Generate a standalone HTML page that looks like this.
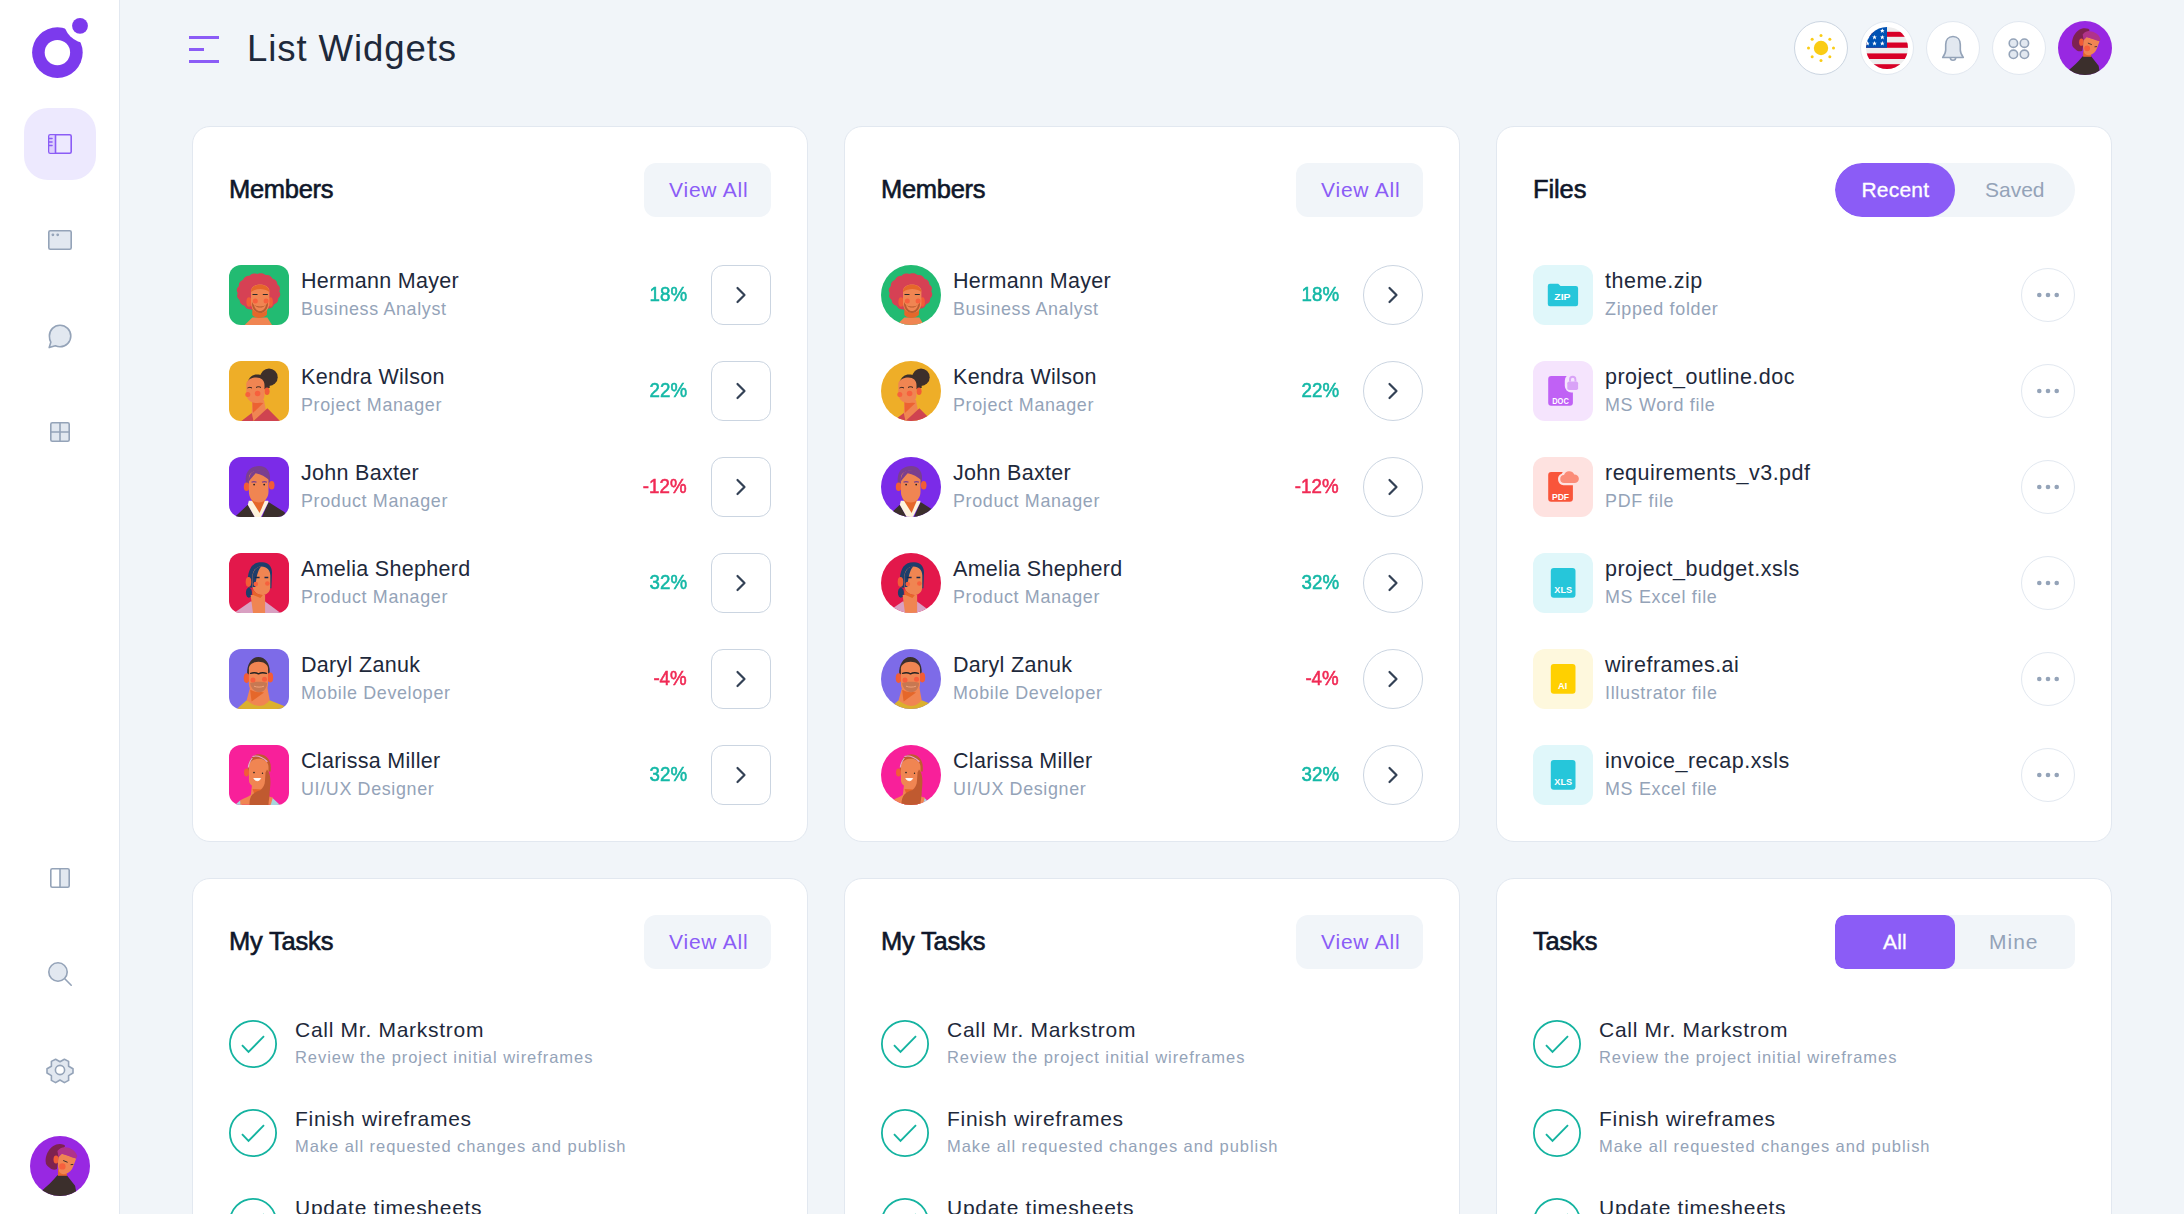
<!DOCTYPE html>
<html><head><meta charset="utf-8"><title>List Widgets</title>
<style>
html,body{margin:0;padding:0}
body{width:2184px;height:1214px;overflow:hidden;position:relative;background:#f1f5f9;font-family:"Liberation Sans",sans-serif}
.sidebar{position:absolute;left:0;top:0;width:119px;height:1214px;background:#fff;border-right:1px solid #e2e8f0}
.t{position:absolute;white-space:nowrap}
.card{position:absolute;width:614px;background:#fff;border:1px solid #e2e8f0;border-radius:18px}
.av{position:absolute;overflow:hidden}
.av svg{display:block}
.va{position:absolute;width:127px;height:54px;border-radius:12px;background:#f1f5f9}
.arr{position:absolute;width:58px;height:58px;border:1px solid #cbd5e1;background:#fff}
.arr svg{position:absolute;left:-1px;top:-1px}
.fi{position:absolute;width:60px;height:60px;border-radius:12px}
.fi svg{display:block}
.dots{position:absolute;width:52px;height:52px;border:1px solid #e2e8f0;border-radius:50%}
.dots svg{display:block}
.tabs{position:absolute;width:240px;height:54px;background:#f1f5f9;overflow:hidden}
.tab-on{position:absolute;left:0;top:0;width:120px;height:54px;background:#8b5cf6}
.chk{position:absolute;width:48px;height:48px}
.chk svg{display:block}
.hb{position:absolute;width:52px;height:52px;border:1px solid #e2e8f0;border-radius:50%;background:#fff}
.hb svg{display:block}
</style></head><body>
<svg width="0" height="0" style="position:absolute"><symbol id="a1" viewBox="0 0 60 60"><rect width="60" height="60" fill="#22bb72"/>
<path d="M50.7 27.2 L51.1 28.0 L51.2 28.9 L51.2 29.8 L51.1 30.6 L50.7 31.4 L50.2 32.2 L49.5 32.9 L49.1 33.6 L49.1 34.5 L49.0 35.4 L48.8 36.3 L48.3 37.0 L47.8 37.7 L47.0 38.3 L46.2 38.8 L45.3 39.3 L44.7 39.9 L44.3 40.8 L43.8 41.5 L43.2 42.2 L42.4 42.7 L41.5 43.1 L40.6 43.4 L39.6 43.6 L38.5 43.6 L37.8 44.2 L37.1 44.8 L36.2 45.3 L35.3 45.5 L34.4 45.5 L33.4 45.5 L32.4 45.5 L31.4 45.5 L30.4 45.4 L29.5 45.5 L28.5 45.5 L27.5 45.5 L26.6 45.5 L25.6 45.5 L24.7 45.5 L23.8 45.3 L23.0 44.7 L22.1 44.4 L21.1 44.4 L20.1 44.3 L19.1 44.1 L18.2 43.7 L17.5 43.2 L16.8 42.5 L16.2 41.8 L15.7 41.0 L15.0 40.5 L14.0 40.2 L13.1 39.7 L12.4 39.1 L11.8 38.5 L11.3 37.7 L11.0 36.9 L10.8 36.0 L10.7 35.1 L10.1 34.5 L9.4 33.8 L8.8 33.1 L8.4 32.3 L8.1 31.5 L8.1 30.6 L8.2 29.7 L8.4 28.9 L8.7 28.0 L8.3 27.2 L7.9 26.4 L7.8 25.5 L7.8 24.6 L7.9 23.8 L8.3 23.0 L8.8 22.2 L9.5 21.5 L9.9 20.8 L9.9 19.9 L10.0 19.0 L10.2 18.1 L10.7 17.4 L11.2 16.7 L12.0 16.1 L12.8 15.6 L13.7 15.1 L14.3 14.5 L14.7 13.6 L15.2 12.9 L15.8 12.2 L16.6 11.7 L17.5 11.3 L18.4 11.0 L19.4 10.8 L20.5 10.8 L21.2 10.2 L21.9 9.6 L22.8 9.1 L23.7 8.7 L24.6 8.5 L25.6 8.4 L26.6 8.5 L27.6 8.8 L28.6 9.0 L29.5 8.6 L30.5 8.3 L31.5 8.2 L32.4 8.2 L33.4 8.3 L34.3 8.7 L35.2 9.1 L36.0 9.7 L36.9 10.0 L37.9 10.0 L38.9 10.1 L39.9 10.3 L40.8 10.7 L41.5 11.2 L42.2 11.9 L42.8 12.6 L43.3 13.4 L44.0 13.9 L45.0 14.2 L45.9 14.7 L46.6 15.3 L47.2 15.9 L47.7 16.7 L48.0 17.5 L48.2 18.4 L48.3 19.3 L48.9 19.9 L49.6 20.6 L50.2 21.3 L50.6 22.1 L50.9 22.9 L50.9 23.8 L50.8 24.7 L50.6 25.5 L50.3 26.4z" fill="#d64154"/>
<ellipse cx="20" cy="37" rx="2.6" ry="4.8" fill="#f25c36"/><ellipse cx="41.5" cy="37" rx="2.4" ry="4.8" fill="#f25c36"/>
<path d="M15.7 60L23.3 52.5h15L43 60z" fill="#f08552"/>
<path d="M23.3 42h15l-.5 8c-2 2-5 3-7.5 3s-5.5-1-7-3z" fill="#e5672a"/>
<path d="M22 26c0-4 4-6.5 9-6.5s9.4 2.5 9.4 6.5v12c0 6-4 10-9.2 10S22 44 22 38z" fill="#f08552"/>
<path d="M22 26.9c0-4.5 4-7.2 9-7.2s9.4 2.7 9.4 7.2c-3-2.2-6-3-9.2-3S25 24.7 22 26.9z" fill="#e5672a"/>
<path d="M23 37c1 3 4 4.5 8 4.5s7-1.5 8-4.5c.5 6-3 11-8 11s-8.5-5-8-11z" fill="#b85c30"/>
<path d="M25 39.5c2 2.5 4 3 6 3s4-.5 6-3c-.5 4-3 6.5-6 6.5s-5.5-2.5-6-6.5z" fill="#f08552"/>
<circle cx="26.3" cy="36.1" r="2.5" fill="#f7603d"/><circle cx="37.1" cy="36.1" r="2.5" fill="#f7603d"/>
<path d="M23.5 29.5h5M33.8 29.5h5" stroke="#2a2a2a" stroke-width="1.1"/></symbol><symbol id="a2" viewBox="0 0 60 60"><rect width="60" height="60" fill="#eeae28"/>
<circle cx="40" cy="16.2" r="8.7" fill="#3d2f2b"/>
<path d="M18.5 21.5C20 16 24 13.5 28 13.5c4 0 8 1 10 4.5l3 8.5-4 2-18-4z" fill="#3d2f2b"/>
<path d="M23.4 39h11.5l2 10L24.5 60 22.8 52z" fill="#f08552"/>
<path d="M23.4 41l11 1-10.5 10z" fill="#ec6232"/>
<ellipse cx="38" cy="30.2" rx="2.6" ry="3.8" fill="#f25c36"/>
<path d="M17.3 22c2-4 6-5.5 10-5.5 5 0 8.2 3 8.2 7.5v10c0 5-3.5 8.1-8.5 8.1-5.5 0-9.7-4-9.7-9.5z" fill="#f08552"/>
<circle cx="18.8" cy="33.4" r="2.5" fill="#f7603d"/><circle cx="28.6" cy="32.5" r="2.8" fill="#f7603d"/>
<path d="M18.5 27c1.5-.8 3-.8 4.5 0M27 26.5c1.5-1 3.5-1 5 0" stroke="#2d2220" stroke-width="1" fill="none"/>
<path d="M12.4 60L22.8 51.9 24.5 60zM24.5 60L38.4 47.3 51 60z" fill="#cf4350"/></symbol><symbol id="a3" viewBox="0 0 60 60"><rect width="60" height="60" fill="#7b2be8"/>
<path d="M17 27c-1-6 0-12 4-15 4-3 10-4 14-2 4 2 6 6 6 11l-.5 5z" fill="#7a3f8e"/>
<ellipse cx="17.6" cy="29.7" rx="2.8" ry="4.3" fill="#f25c36"/><ellipse cx="42.7" cy="28.2" rx="2.8" ry="4.3" fill="#f25c36"/>
<path d="M5.8 60L18.8 47.8 25.7 60zM39.5 45l16.2 10.3 .5 4.7H33z" fill="#3b2f2c"/>
<path d="M18.8 47.8l1-4h19.4l.3 1.2L32 60h-6.3z" fill="#fdf3dc"/>
<path d="M21 40.5h16.2l-6.6 15.5z" fill="#e5672a"/>
<path d="M19.9 21c0-5 4.5-7.2 9.8-7.2 5.8 0 9.8 3 9.8 7.5v13.5c0 6.2-4 10.7-9.8 10.7-5.9 0-9.8-4.5-9.8-10.7z" fill="#f08552"/>
<path d="M19.9 24.5c-.2-5 1.5-9 5.5-10.5 5-1.8 10.5-.5 13.5 2.5 1.5 1.5 2 4 1.8 7-4-3.5-9-6.5-14-7.2-2 2-4.5 5-6.8 8.2z" fill="#7a3f8e"/>
<path d="M22.5 25.3c1.5-.8 3.5-.8 5 0M33 25.3c1.5-.8 3.5-.8 5 0" stroke="#7a3f8e" stroke-width="1.2" fill="none"/>
<circle cx="25.1" cy="27.6" r=".9" fill="#222"/><circle cx="35.2" cy="27.6" r=".9" fill="#222"/></symbol><symbol id="a4" viewBox="0 0 60 60"><rect width="60" height="60" fill="#e3184b"/>
<path d="M19 34.6c-1-8 0-16 3.5-21 3-4 8-5 13-4 5 1 7.5 5 7.5 10l-.6 15.6H39l-.5-14-14 0-.8 13.5z" fill="#1d3e6b"/>
<ellipse cx="19.9" cy="39.8" rx="3" ry="5" fill="#1d3e6b"/>
<ellipse cx="19.5" cy="29" rx="2.8" ry="4.9" fill="#f25c36"/>
<path d="M4.9 60l16.7-11.6h14.5L51.6 60z" fill="#d9a0c2"/>
<path d="M21.6 42h14.5v18H24z" fill="#f08552"/>
<path d="M23.4 24c0-6 3.5-10.5 9-10.5 5.3 0 8.9 3.5 8.9 9v11c0 5.5-3.5 8.6-8 8.6-5 0-9.9-4-9.9-9.5z" fill="#f08552"/>
<path d="M23.4 36c2.5 3.5 6 5.8 10.5 6.1l-2.5 3-8-3.5z" fill="#e5672a"/>
<path d="M23.5 26c-.5-7 3-12.5 9-12.8-2.5 2.5-5 7-6 20.8h-2.8z" fill="#1d3e6b"/>
<circle cx="26.8" cy="31.1" r="2.3" fill="#f7603d"/><circle cx="38.4" cy="30.5" r="2.3" fill="#f7603d"/>
<path d="M25.8 24.5h4.8M35.5 24.5h3.8" stroke="#1d2a4a" stroke-width="1.3"/></symbol><symbol id="a5" viewBox="0 0 60 60"><rect width="60" height="60" fill="#7d6be8"/>
<path d="M18.2 25c-.5-9 4-17 11-17 7.5 0 12 7 11.5 16l-1.5 1-.3-6H20.5l-.5 7z" fill="#3b2f2c"/>
<ellipse cx="17.6" cy="29.1" rx="2.9" ry="4.9" fill="#f25c36"/><ellipse cx="41.3" cy="28.5" rx="2.9" ry="4.9" fill="#f25c36"/>
<path d="M7.8 60l9.8-8.7h23.1L55.1 57l.9 3z" fill="#dbb02e"/>
<path d="M21.1 38.5h17.3l2.3 12.8c-2.5 3-6 5.7-10.4 5.7-4.3 0-8.5-2.5-12.7-5.7z" fill="#f08552"/>
<path d="M21.1 41l14 2.5-12.5 9z" fill="#e5672a"/>
<path d="M19.9 19.5c0-4 4.5-6.8 9.7-6.8s9.4 2.8 9.4 6.8v16c0 5.2-4 7.7-9.2 7.7s-9.9-2.5-9.9-7.7z" fill="#f08552"/>
<path d="M21.1 34c3-1 6-1.2 8.8-1.2s5.5.2 8.3 1.2c-.6 5.5-3.5 9.2-8 9.2-4.4 0-8.5-3.7-9.1-9.2z" fill="#c77852"/>
<path d="M25 37.2c3 1.2 7 1.2 10 0" stroke="#f0a27a" stroke-width="1" fill="none"/>
<circle cx="24" cy="31.1" r="2.5" fill="#f7603d"/><circle cx="35.5" cy="30.2" r="2.5" fill="#f7603d"/>
<path d="M21 24.5c3-1 6-1 8.5.3 2.5-1.3 5.5-1.3 8.5-.3" stroke="#222" stroke-width="1.3" fill="none"/></symbol><symbol id="a6" viewBox="0 0 60 60"><rect width="60" height="60" fill="#f8209a"/>
<path d="M18.8 26.5c-.5-10 4-17.3 11.2-17.3 7 0 11.8 5.5 11.8 13v4.3z" fill="#c05a30"/>
<ellipse cx="17.5" cy="27.6" rx="2.5" ry="4" fill="#f25c36"/>
<path d="M6 60l5.3-4.7L13 60zM43 52.4l8 7.6H41z" fill="#a8d5dc"/>
<path d="M11.3 55.3c4-2 8-3.3 10.5-5.5l1.5-12h14l1.5 13c2 1 3.5 1.5 5 2l-2 7H11.3z" fill="#f08552"/>
<path d="M23.5 44l9 .5-7 5z" fill="#e5672a"/>
<path d="M19.9 22c0-5 4.3-8.2 9.8-8.2s9.8 3.2 9.8 8.2v12.8c0 5.2-4.3 7.8-9.8 7.8-5.3 0-9.8-2.6-9.8-7.8z" fill="#f08552"/>
<path d="M38 24.5c3 3 3.8 9 3.3 15.8l-.5 6c0 5-1.3 9.5-1.3 13.7H20.5c-.2-4.5.8-8 2.9-10.4 2-2.4 5.5-3.5 8.1-4.6 2.5-2 4.5-5.5 4.5-9.5l.5-8z" fill="#c05a30"/>
<path d="M23.4 11.5c5-1.5 10.5 1 15 5.2M19.3 22.5c.5-4 2-7 4-9.5" stroke="#e6a6d0" stroke-width="1.2" fill="none"/>
<path d="M24.8 33.6c2.3 2.8 5 2.8 6.8 0z" fill="#fff" stroke="#fff" stroke-width="1"/>
<circle cx="25" cy="27.6" r=".8" fill="#222"/><circle cx="33.5" cy="28.2" r=".7" fill="#222"/></symbol><symbol id="me" viewBox="0 0 60 60"><rect width="60" height="60" fill="#9828e2"/>
<path d="M29.6 8C33 8 35 9 35.1 10.2L30 16 27 33C25 34 22 34 20 32 17 30 15.5 28 15.8 26.5 15 22 17 17 18.5 14.9 21 11 25 8 29.6 8z" fill="#7d2250"/>
<path d="M12.4 54.2C17 50 22 46 27.4 39.2h9.4l8.3 10.6L47 60H10z" fill="#3b2f2c"/>
<path d="M28 33.5l8.5 2 .5 4.2h-9z" fill="#e5672a"/>
<ellipse cx="26" cy="23.5" rx="2.5" ry="4.1" fill="#f25c36"/>
<path d="M28.5 21l3.3-3.3c5.2 1.3 10.2 2.8 14.4 4.9l-2.9 7.6c-1.3 3.8-4.3 6.8-8.2 7.9-3.1.4-5.1-1.1-6-2.7-1.1-3.4-1.3-5.4-1.2-8.3z" fill="#f08552"/>
<path d="M27.4 14.9c2.6-2.9 5.6-3.9 7.7-3.6 4.9.2 9.9 2.7 12.2 8.6l-1.1 2.7c-5.2-1.6-10.2-3.6-14.4-4.9L28.5 21z" fill="#b0338a"/>
<circle cx="32.4" cy="30.4" r="3.2" fill="#f7603d"/>
<path d="M33.2 24.5l4.4 1.8M40.6 28.7l2.7-.3" stroke="#3b2f2c" stroke-width="1"/></symbol></svg>
<div class="sidebar"></div>

<svg class="logo" width="120" height="100" viewBox="0 0 120 100" style="position:absolute;left:0;top:0">
 <defs><mask id="lm"><rect width="120" height="100" fill="#fff"/><circle cx="57.4" cy="52.6" r="12.7" fill="#000"/><circle cx="87" cy="19.5" r="23.7" fill="#000"/></mask></defs>
 <circle cx="57.4" cy="52.6" r="25.3" fill="#7c3aed" mask="url(#lm)"/>
 <circle cx="80" cy="25.8" r="7.9" fill="#7c3aed"/>
</svg>
<div style="position:absolute;left:24px;top:108px;width:72px;height:72px;border-radius:24px;background:#ede9fe"></div>
<svg width="120" height="1214" style="position:absolute;left:0;top:0" fill="none" stroke-linecap="round" stroke-linejoin="round">
 <g stroke="#8b5cf6" stroke-width="1.6">
  <rect x="48.8" y="134.8" width="22.4" height="18.4" rx="1.5" fill="#ede9fe"/>
  <path d="M49.5 135.5h6v17h-6z" fill="#ddd0fd" stroke="none"/>
  <path d="M55.5 134.8v18.4"/>
  <path d="M49 138.5h3M49 142h3M49 145.5h3"/>
 </g>
 <g stroke="#94a3b8" stroke-width="1.6">
  <rect x="48.8" y="230.8" width="22.4" height="18.4" rx="1.5" fill="#e2e8f0"/>
  <circle cx="52.9" cy="234.8" r="0.6" fill="#94a3b8"/><circle cx="57.7" cy="234.8" r="0.6" fill="#94a3b8"/>
  <path d="M60 325.2c6 0 10.8 4.8 10.8 10.8S66 346.8 60 346.8c-1.6 0-3.2-.4-4.6-1l-6.2 1.8 1.6-5.4c-.8-1.5-1.4-3.3-1.4-6.2 0-6 4.6-10.8 10.6-10.8z" fill="#e2e8f0"/>
  <rect x="50.8" y="422.8" width="18.4" height="18.4" rx="1.5" fill="#e2e8f0"/>
  <path d="M60 422.8v18.4M50.8 432h18.4"/>
  <path d="M60 869.5h8.2a1 1 0 0 1 1 1v16a1 1 0 0 1-1 1H60z" fill="#e2e8f0" stroke="none"/>
  <rect x="50.8" y="868.8" width="18.4" height="18.4" rx="1.5"/>
  <path d="M60 868.8v18.4"/>
  <circle cx="58" cy="972" r="9.2" fill="#e2e8f0"/>
  <path d="M64.8 978.8l6.4 6.4"/>
  <path d="M55.6 1059.2l4.4 2.6 4.4-2.6 4.2 2.2v4.8l4.4 2.6v4.2l-4.4 2.6v4.8l-4.2 2.2-4.4-2.6-4.4 2.6-4.2-2.2v-4.8l-4.4-2.6v-4.2l4.4-2.6v-4.8z" fill="#e2e8f0"/>
  <circle cx="60" cy="1070" r="4.6" fill="#fff"/>
 </g>
</svg>
<div class="av" style="left:30px;top:1136px;width:60px;height:60px;border-radius:50%"><svg width="60" height="60" viewBox="0 0 60 60"><use href="#me"/></svg></div>
<svg width="32" height="30" style="position:absolute;left:188px;top:34px"><g fill="#8b5cf6"><rect x="1" y="2" width="30" height="3"/><rect x="1" y="14" width="15" height="3"/><rect x="1" y="26" width="30" height="3"/></g></svg><div class="t " style="left:247px;top:31.40px;font-size:36.6px;line-height:36.6px;color:#1e293b;letter-spacing:0.9px;">List Widgets</div><div class="hb" style="left:1794px;top:21px;border-color:#cbd5e1"><svg width="52" height="52" viewBox="0 0 52 52"><circle cx="26" cy="26" r="7.2" fill="#facc15"/><circle cx="38.50" cy="26.00" r="1.5" fill="#facc15"/><circle cx="34.84" cy="34.84" r="1.5" fill="#facc15"/><circle cx="26.00" cy="38.50" r="1.5" fill="#facc15"/><circle cx="17.16" cy="34.84" r="1.5" fill="#facc15"/><circle cx="13.50" cy="26.00" r="1.5" fill="#facc15"/><circle cx="17.16" cy="17.16" r="1.5" fill="#facc15"/><circle cx="26.00" cy="13.50" r="1.5" fill="#facc15"/><circle cx="34.84" cy="17.16" r="1.5" fill="#facc15"/></svg></div><div class="hb" style="left:1860px;top:21px;border-color:#e2e8f0"><svg width="52" height="52" viewBox="0 0 52 52"><defs><clipPath id="fc"><circle cx="26" cy="26" r="21"/></clipPath></defs><g clip-path="url(#fc)">
<rect x="0" y="0" width="52" height="52" fill="#eeeeee"/>
<rect x="0" y="9.8" width="52" height="5" fill="#d80027"/><rect x="0" y="20.5" width="52" height="5.3" fill="#d80027"/><rect x="0" y="31.4" width="52" height="5.6" fill="#d80027"/><rect x="0" y="42.2" width="52" height="6" fill="#d80027"/>
<rect x="0" y="0" width="26" height="25.8" fill="#0052b4"/><path transform="translate(21.3,8.8) scale(1.5)" d="M0-1.6L.47-.5H1.5L.7.2 1 1.4 0 .7-1 1.4-.7.2-1.5-.5H-.47z" fill="#fff"/><path transform="translate(13.5,15.3) scale(1.5)" d="M0-1.6L.47-.5H1.5L.7.2 1 1.4 0 .7-1 1.4-.7.2-1.5-.5H-.47z" fill="#fff"/><path transform="translate(21.3,15.3) scale(1.5)" d="M0-1.6L.47-.5H1.5L.7.2 1 1.4 0 .7-1 1.4-.7.2-1.5-.5H-.47z" fill="#fff"/><path transform="translate(6.4,21.5) scale(1.5)" d="M0-1.6L.47-.5H1.5L.7.2 1 1.4 0 .7-1 1.4-.7.2-1.5-.5H-.47z" fill="#fff"/><path transform="translate(13.5,21.5) scale(1.5)" d="M0-1.6L.47-.5H1.5L.7.2 1 1.4 0 .7-1 1.4-.7.2-1.5-.5H-.47z" fill="#fff"/><path transform="translate(21.3,21.5) scale(1.5)" d="M0-1.6L.47-.5H1.5L.7.2 1 1.4 0 .7-1 1.4-.7.2-1.5-.5H-.47z" fill="#fff"/></g></svg></div><div class="hb" style="left:1926px;top:21px;border-color:#e2e8f0"><svg width="52" height="52" viewBox="0 0 52 52"><path d="M26 14.5c-4.5 0-7.3 3.3-7.3 8v5.5c0 3-1.3 5-3 7.5h20.6c-1.7-2.5-3-4.5-3-7.5v-5.5c0-4.7-2.8-8-7.3-8z" fill="#e2e8f0" stroke="#94a3b8" stroke-width="1.6" stroke-linejoin="round"/><path d="M23.3 35.5a2.7 2.7 0 0 0 5.4 0" stroke="#94a3b8" stroke-width="1.6" fill="none"/></svg></div><div class="hb" style="left:1992px;top:21px;border-color:#e2e8f0"><svg width="52" height="52" viewBox="0 0 52 52"><g stroke="#94a3b8" stroke-width="1.6" fill="#e2e8f0"><circle cx="20.4" cy="21.2" r="4.2"/><circle cx="31.4" cy="21.2" r="4.2"/><circle cx="20.4" cy="32.3" r="4.2"/><circle cx="31.4" cy="32.3" r="4.2"/></g></svg></div><div class="av" style="left:2058px;top:21px;width:54px;height:54px;border-radius:50%"><svg width="54" height="54" viewBox="0 0 60 60"><use href="#me"/></svg></div>
<div class="card" style="left:192px;top:126px;height:714px"></div><div class="card" style="left:192px;top:878px;height:400px"></div><div class="card" style="left:844px;top:126px;height:714px"></div><div class="card" style="left:844px;top:878px;height:400px"></div><div class="card" style="left:1496px;top:126px;height:714px"></div><div class="card" style="left:1496px;top:878px;height:400px"></div><div class="t " style="left:229px;top:177.05px;font-size:25.5px;line-height:25.5px;color:#0f172a;letter-spacing:-0.3px;-webkit-text-stroke:0.6px #0f172a;">Members</div><div class="va" style="left:644px;top:163px"></div><div class="t " style="left:669px;top:178.90px;font-size:21px;line-height:21px;color:#8b5cf6;letter-spacing:0.8px;">View All</div><div class="av" style="left:229px;top:265px;width:60px;height:60px;border-radius:12px"><svg width="60" height="60" viewBox="0 0 60 60"><use href="#a1"/></svg></div><div class="t " style="left:301px;top:270.75px;font-size:21.5px;line-height:21.5px;color:#1e293b;letter-spacing:0.3px;">Hermann Mayer</div><div class="t " style="left:301px;top:300.55px;font-size:17.9px;line-height:17.9px;color:#94a3b8;letter-spacing:0.65px;">Business Analyst</div><div class="t " style="right:1497px;top:285.25px;font-size:19.5px;line-height:19.5px;color:#14b8a6;letter-spacing:0px;transform:scaleX(0.96);transform-origin:100% 50%;-webkit-text-stroke:0.55px #14b8a6;">18%</div><div class="arr" style="left:711px;top:265px;border-radius:12px"><svg width="60" height="60" viewBox="0 0 60 60"><path d="M26.5 23l7 7-7 7" stroke="#334155" stroke-width="2.2" fill="none" stroke-linecap="round" stroke-linejoin="round"/></svg></div><div class="av" style="left:229px;top:361px;width:60px;height:60px;border-radius:12px"><svg width="60" height="60" viewBox="0 0 60 60"><use href="#a2"/></svg></div><div class="t " style="left:301px;top:366.75px;font-size:21.5px;line-height:21.5px;color:#1e293b;letter-spacing:0.3px;">Kendra Wilson</div><div class="t " style="left:301px;top:396.55px;font-size:17.9px;line-height:17.9px;color:#94a3b8;letter-spacing:0.65px;">Project Manager</div><div class="t " style="right:1497px;top:381.25px;font-size:19.5px;line-height:19.5px;color:#14b8a6;letter-spacing:0px;transform:scaleX(0.96);transform-origin:100% 50%;-webkit-text-stroke:0.55px #14b8a6;">22%</div><div class="arr" style="left:711px;top:361px;border-radius:12px"><svg width="60" height="60" viewBox="0 0 60 60"><path d="M26.5 23l7 7-7 7" stroke="#334155" stroke-width="2.2" fill="none" stroke-linecap="round" stroke-linejoin="round"/></svg></div><div class="av" style="left:229px;top:457px;width:60px;height:60px;border-radius:12px"><svg width="60" height="60" viewBox="0 0 60 60"><use href="#a3"/></svg></div><div class="t " style="left:301px;top:462.75px;font-size:21.5px;line-height:21.5px;color:#1e293b;letter-spacing:0.3px;">John Baxter</div><div class="t " style="left:301px;top:492.55px;font-size:17.9px;line-height:17.9px;color:#94a3b8;letter-spacing:0.65px;">Product Manager</div><div class="t " style="right:1497px;top:477.25px;font-size:19.5px;line-height:19.5px;color:#f02a55;letter-spacing:0px;transform:scaleX(0.96);transform-origin:100% 50%;-webkit-text-stroke:0.55px #f02a55;">-12%</div><div class="arr" style="left:711px;top:457px;border-radius:12px"><svg width="60" height="60" viewBox="0 0 60 60"><path d="M26.5 23l7 7-7 7" stroke="#334155" stroke-width="2.2" fill="none" stroke-linecap="round" stroke-linejoin="round"/></svg></div><div class="av" style="left:229px;top:553px;width:60px;height:60px;border-radius:12px"><svg width="60" height="60" viewBox="0 0 60 60"><use href="#a4"/></svg></div><div class="t " style="left:301px;top:558.75px;font-size:21.5px;line-height:21.5px;color:#1e293b;letter-spacing:0.3px;">Amelia Shepherd</div><div class="t " style="left:301px;top:588.55px;font-size:17.9px;line-height:17.9px;color:#94a3b8;letter-spacing:0.65px;">Product Manager</div><div class="t " style="right:1497px;top:573.25px;font-size:19.5px;line-height:19.5px;color:#14b8a6;letter-spacing:0px;transform:scaleX(0.96);transform-origin:100% 50%;-webkit-text-stroke:0.55px #14b8a6;">32%</div><div class="arr" style="left:711px;top:553px;border-radius:12px"><svg width="60" height="60" viewBox="0 0 60 60"><path d="M26.5 23l7 7-7 7" stroke="#334155" stroke-width="2.2" fill="none" stroke-linecap="round" stroke-linejoin="round"/></svg></div><div class="av" style="left:229px;top:649px;width:60px;height:60px;border-radius:12px"><svg width="60" height="60" viewBox="0 0 60 60"><use href="#a5"/></svg></div><div class="t " style="left:301px;top:654.75px;font-size:21.5px;line-height:21.5px;color:#1e293b;letter-spacing:0.3px;">Daryl Zanuk</div><div class="t " style="left:301px;top:684.55px;font-size:17.9px;line-height:17.9px;color:#94a3b8;letter-spacing:0.65px;">Mobile Developer</div><div class="t " style="right:1497px;top:669.25px;font-size:19.5px;line-height:19.5px;color:#f02a55;letter-spacing:0px;transform:scaleX(0.96);transform-origin:100% 50%;-webkit-text-stroke:0.55px #f02a55;">-4%</div><div class="arr" style="left:711px;top:649px;border-radius:12px"><svg width="60" height="60" viewBox="0 0 60 60"><path d="M26.5 23l7 7-7 7" stroke="#334155" stroke-width="2.2" fill="none" stroke-linecap="round" stroke-linejoin="round"/></svg></div><div class="av" style="left:229px;top:745px;width:60px;height:60px;border-radius:12px"><svg width="60" height="60" viewBox="0 0 60 60"><use href="#a6"/></svg></div><div class="t " style="left:301px;top:750.75px;font-size:21.5px;line-height:21.5px;color:#1e293b;letter-spacing:0.3px;">Clarissa Miller</div><div class="t " style="left:301px;top:780.55px;font-size:17.9px;line-height:17.9px;color:#94a3b8;letter-spacing:0.65px;">UI/UX Designer</div><div class="t " style="right:1497px;top:765.25px;font-size:19.5px;line-height:19.5px;color:#14b8a6;letter-spacing:0px;transform:scaleX(0.96);transform-origin:100% 50%;-webkit-text-stroke:0.55px #14b8a6;">32%</div><div class="arr" style="left:711px;top:745px;border-radius:12px"><svg width="60" height="60" viewBox="0 0 60 60"><path d="M26.5 23l7 7-7 7" stroke="#334155" stroke-width="2.2" fill="none" stroke-linecap="round" stroke-linejoin="round"/></svg></div><div class="t " style="left:881px;top:177.05px;font-size:25.5px;line-height:25.5px;color:#0f172a;letter-spacing:-0.3px;-webkit-text-stroke:0.6px #0f172a;">Members</div><div class="va" style="left:1296px;top:163px"></div><div class="t " style="left:1321px;top:178.90px;font-size:21px;line-height:21px;color:#8b5cf6;letter-spacing:0.8px;">View All</div><div class="av" style="left:881px;top:265px;width:60px;height:60px;border-radius:50%"><svg width="60" height="60" viewBox="0 0 60 60"><use href="#a1"/></svg></div><div class="t " style="left:953px;top:270.75px;font-size:21.5px;line-height:21.5px;color:#1e293b;letter-spacing:0.3px;">Hermann Mayer</div><div class="t " style="left:953px;top:300.55px;font-size:17.9px;line-height:17.9px;color:#94a3b8;letter-spacing:0.65px;">Business Analyst</div><div class="t " style="right:845px;top:285.25px;font-size:19.5px;line-height:19.5px;color:#14b8a6;letter-spacing:0px;transform:scaleX(0.96);transform-origin:100% 50%;-webkit-text-stroke:0.55px #14b8a6;">18%</div><div class="arr" style="left:1363px;top:265px;border-radius:50%"><svg width="60" height="60" viewBox="0 0 60 60"><path d="M26.5 23l7 7-7 7" stroke="#334155" stroke-width="2.2" fill="none" stroke-linecap="round" stroke-linejoin="round"/></svg></div><div class="av" style="left:881px;top:361px;width:60px;height:60px;border-radius:50%"><svg width="60" height="60" viewBox="0 0 60 60"><use href="#a2"/></svg></div><div class="t " style="left:953px;top:366.75px;font-size:21.5px;line-height:21.5px;color:#1e293b;letter-spacing:0.3px;">Kendra Wilson</div><div class="t " style="left:953px;top:396.55px;font-size:17.9px;line-height:17.9px;color:#94a3b8;letter-spacing:0.65px;">Project Manager</div><div class="t " style="right:845px;top:381.25px;font-size:19.5px;line-height:19.5px;color:#14b8a6;letter-spacing:0px;transform:scaleX(0.96);transform-origin:100% 50%;-webkit-text-stroke:0.55px #14b8a6;">22%</div><div class="arr" style="left:1363px;top:361px;border-radius:50%"><svg width="60" height="60" viewBox="0 0 60 60"><path d="M26.5 23l7 7-7 7" stroke="#334155" stroke-width="2.2" fill="none" stroke-linecap="round" stroke-linejoin="round"/></svg></div><div class="av" style="left:881px;top:457px;width:60px;height:60px;border-radius:50%"><svg width="60" height="60" viewBox="0 0 60 60"><use href="#a3"/></svg></div><div class="t " style="left:953px;top:462.75px;font-size:21.5px;line-height:21.5px;color:#1e293b;letter-spacing:0.3px;">John Baxter</div><div class="t " style="left:953px;top:492.55px;font-size:17.9px;line-height:17.9px;color:#94a3b8;letter-spacing:0.65px;">Product Manager</div><div class="t " style="right:845px;top:477.25px;font-size:19.5px;line-height:19.5px;color:#f02a55;letter-spacing:0px;transform:scaleX(0.96);transform-origin:100% 50%;-webkit-text-stroke:0.55px #f02a55;">-12%</div><div class="arr" style="left:1363px;top:457px;border-radius:50%"><svg width="60" height="60" viewBox="0 0 60 60"><path d="M26.5 23l7 7-7 7" stroke="#334155" stroke-width="2.2" fill="none" stroke-linecap="round" stroke-linejoin="round"/></svg></div><div class="av" style="left:881px;top:553px;width:60px;height:60px;border-radius:50%"><svg width="60" height="60" viewBox="0 0 60 60"><use href="#a4"/></svg></div><div class="t " style="left:953px;top:558.75px;font-size:21.5px;line-height:21.5px;color:#1e293b;letter-spacing:0.3px;">Amelia Shepherd</div><div class="t " style="left:953px;top:588.55px;font-size:17.9px;line-height:17.9px;color:#94a3b8;letter-spacing:0.65px;">Product Manager</div><div class="t " style="right:845px;top:573.25px;font-size:19.5px;line-height:19.5px;color:#14b8a6;letter-spacing:0px;transform:scaleX(0.96);transform-origin:100% 50%;-webkit-text-stroke:0.55px #14b8a6;">32%</div><div class="arr" style="left:1363px;top:553px;border-radius:50%"><svg width="60" height="60" viewBox="0 0 60 60"><path d="M26.5 23l7 7-7 7" stroke="#334155" stroke-width="2.2" fill="none" stroke-linecap="round" stroke-linejoin="round"/></svg></div><div class="av" style="left:881px;top:649px;width:60px;height:60px;border-radius:50%"><svg width="60" height="60" viewBox="0 0 60 60"><use href="#a5"/></svg></div><div class="t " style="left:953px;top:654.75px;font-size:21.5px;line-height:21.5px;color:#1e293b;letter-spacing:0.3px;">Daryl Zanuk</div><div class="t " style="left:953px;top:684.55px;font-size:17.9px;line-height:17.9px;color:#94a3b8;letter-spacing:0.65px;">Mobile Developer</div><div class="t " style="right:845px;top:669.25px;font-size:19.5px;line-height:19.5px;color:#f02a55;letter-spacing:0px;transform:scaleX(0.96);transform-origin:100% 50%;-webkit-text-stroke:0.55px #f02a55;">-4%</div><div class="arr" style="left:1363px;top:649px;border-radius:50%"><svg width="60" height="60" viewBox="0 0 60 60"><path d="M26.5 23l7 7-7 7" stroke="#334155" stroke-width="2.2" fill="none" stroke-linecap="round" stroke-linejoin="round"/></svg></div><div class="av" style="left:881px;top:745px;width:60px;height:60px;border-radius:50%"><svg width="60" height="60" viewBox="0 0 60 60"><use href="#a6"/></svg></div><div class="t " style="left:953px;top:750.75px;font-size:21.5px;line-height:21.5px;color:#1e293b;letter-spacing:0.3px;">Clarissa Miller</div><div class="t " style="left:953px;top:780.55px;font-size:17.9px;line-height:17.9px;color:#94a3b8;letter-spacing:0.65px;">UI/UX Designer</div><div class="t " style="right:845px;top:765.25px;font-size:19.5px;line-height:19.5px;color:#14b8a6;letter-spacing:0px;transform:scaleX(0.96);transform-origin:100% 50%;-webkit-text-stroke:0.55px #14b8a6;">32%</div><div class="arr" style="left:1363px;top:745px;border-radius:50%"><svg width="60" height="60" viewBox="0 0 60 60"><path d="M26.5 23l7 7-7 7" stroke="#334155" stroke-width="2.2" fill="none" stroke-linecap="round" stroke-linejoin="round"/></svg></div><div class="t " style="left:1533px;top:177.05px;font-size:25.5px;line-height:25.5px;color:#0f172a;letter-spacing:-0.1px;-webkit-text-stroke:0.6px #0f172a;">Files</div><div class="tabs" style="left:1835px;top:163px;border-radius:27px"><div class="tab-on" style="border-radius:27px"></div></div><div class="t " style="left:1861.5px;top:179.00px;font-size:21px;line-height:21px;color:#ffffff;letter-spacing:0.2px;-webkit-text-stroke:0.3px #fff;">Recent</div><div class="t " style="left:1985px;top:179.00px;font-size:21px;line-height:21px;color:#94a3b8;letter-spacing:0px;">Saved</div><div class="fi" style="left:1533px;top:265px;background:#e0f7fa"><svg width="60" height="60" viewBox="0 0 60 60"><path d="M14.8 21a2.2 2.2 0 0 1 2.2-2.2h8.2l2.3 2.3h15.4a2.2 2.2 0 0 1 2.2 2.2v15.7a2.2 2.2 0 0 1-2.2 2.2H17a2.2 2.2 0 0 1-2.2-2.2z" fill="#26c6da"/><text x="21.30" y="35.2" font-family="Liberation Sans" font-weight="700" font-size="9.2" fill="#fff" textLength="16.2" lengthAdjust="spacingAndGlyphs">ZIP</text></svg></div><div class="t " style="left:1605px;top:270.75px;font-size:21.5px;line-height:21.5px;color:#1e293b;letter-spacing:0.5px;">theme.zip</div><div class="t " style="left:1605px;top:300.55px;font-size:17.9px;line-height:17.9px;color:#94a3b8;letter-spacing:0.7px;">Zipped folder</div><div class="dots" style="left:2021px;top:268px"><svg width="52" height="52" viewBox="0 0 52 52"><circle cx="17.3" cy="26" r="2.3" fill="#94a3b8"/><circle cx="26" cy="26" r="2.3" fill="#94a3b8"/><circle cx="34.7" cy="26" r="2.3" fill="#94a3b8"/></svg></div><div class="fi" style="left:1533px;top:361px;background:#f5e4fd"><svg width="60" height="60" viewBox="0 0 60 60"><rect x="15.2" y="15.1" width="24.7" height="29.7" rx="3" fill="#c061f5"/><rect x="31.8" y="13.2" width="15.8" height="18.3" rx="6.5" fill="#f5e4fd"/><rect x="34.3" y="20.4" width="10.8" height="8.6" rx="1.8" fill="#d9a2f7"/><path d="M37 20.6v-2.2a2.7 2.7 0 0 1 5.4 0v2.2" stroke="#d9a2f7" stroke-width="1.9" fill="none"/><text x="19.20" y="42.6" font-family="Liberation Sans" font-weight="700" font-size="9.2" fill="#fff" textLength="16.6" lengthAdjust="spacingAndGlyphs">DOC</text></svg></div><div class="t " style="left:1605px;top:366.75px;font-size:21.5px;line-height:21.5px;color:#1e293b;letter-spacing:0.5px;">project_outline.doc</div><div class="t " style="left:1605px;top:396.55px;font-size:17.9px;line-height:17.9px;color:#94a3b8;letter-spacing:0.7px;">MS Word file</div><div class="dots" style="left:2021px;top:364px"><svg width="52" height="52" viewBox="0 0 52 52"><circle cx="17.3" cy="26" r="2.3" fill="#94a3b8"/><circle cx="26" cy="26" r="2.3" fill="#94a3b8"/><circle cx="34.7" cy="26" r="2.3" fill="#94a3b8"/></svg></div><div class="fi" style="left:1533px;top:457px;background:#fee2e0"><svg width="60" height="60" viewBox="0 0 60 60"><rect x="15.2" y="15.1" width="24.7" height="29.7" rx="3" fill="#f9553a"/><path d="M30.5 28.3a6 6 0 0 1-1.8-11.5 7.5 7.5 0 0 1 13.5-.8 6 6 0 0 1 .8 12.3z" fill="#fee2e0"/><path d="M31.5 26a4 4 0 0 1-.5-8 5.5 5.5 0 0 1 10.2-.5 4 4 0 0 1 .8 8.5z" fill="#fb8c78"/><text x="18.90" y="42.6" font-family="Liberation Sans" font-weight="700" font-size="9.2" fill="#fff" textLength="17.2" lengthAdjust="spacingAndGlyphs">PDF</text></svg></div><div class="t " style="left:1605px;top:462.75px;font-size:21.5px;line-height:21.5px;color:#1e293b;letter-spacing:0.5px;">requirements_v3.pdf</div><div class="t " style="left:1605px;top:492.55px;font-size:17.9px;line-height:17.9px;color:#94a3b8;letter-spacing:0.7px;">PDF file</div><div class="dots" style="left:2021px;top:460px"><svg width="52" height="52" viewBox="0 0 52 52"><circle cx="17.3" cy="26" r="2.3" fill="#94a3b8"/><circle cx="26" cy="26" r="2.3" fill="#94a3b8"/><circle cx="34.7" cy="26" r="2.3" fill="#94a3b8"/></svg></div><div class="fi" style="left:1533px;top:553px;background:#e0f7fa"><svg width="60" height="60" viewBox="0 0 60 60"><rect x="17.8" y="15.1" width="24.7" height="29.7" rx="3" fill="#26c6da"/><text x="21.30" y="39.7" font-family="Liberation Sans" font-weight="700" font-size="9.2" fill="#fff" textLength="17.8" lengthAdjust="spacingAndGlyphs">XLS</text></svg></div><div class="t " style="left:1605px;top:558.75px;font-size:21.5px;line-height:21.5px;color:#1e293b;letter-spacing:0.5px;">project_budget.xsls</div><div class="t " style="left:1605px;top:588.55px;font-size:17.9px;line-height:17.9px;color:#94a3b8;letter-spacing:0.7px;">MS Excel file</div><div class="dots" style="left:2021px;top:556px"><svg width="52" height="52" viewBox="0 0 52 52"><circle cx="17.3" cy="26" r="2.3" fill="#94a3b8"/><circle cx="26" cy="26" r="2.3" fill="#94a3b8"/><circle cx="34.7" cy="26" r="2.3" fill="#94a3b8"/></svg></div><div class="fi" style="left:1533px;top:649px;background:#fef8dd"><svg width="60" height="60" viewBox="0 0 60 60"><rect x="17.8" y="15.1" width="24.7" height="29.7" rx="3" fill="#ffd000"/><text x="25.10" y="39.7" font-family="Liberation Sans" font-weight="700" font-size="9.2" fill="#fff" textLength="9.2" lengthAdjust="spacingAndGlyphs">AI</text></svg></div><div class="t " style="left:1605px;top:654.75px;font-size:21.5px;line-height:21.5px;color:#1e293b;letter-spacing:0.5px;">wireframes.ai</div><div class="t " style="left:1605px;top:684.55px;font-size:17.9px;line-height:17.9px;color:#94a3b8;letter-spacing:0.7px;">Illustrator file</div><div class="dots" style="left:2021px;top:652px"><svg width="52" height="52" viewBox="0 0 52 52"><circle cx="17.3" cy="26" r="2.3" fill="#94a3b8"/><circle cx="26" cy="26" r="2.3" fill="#94a3b8"/><circle cx="34.7" cy="26" r="2.3" fill="#94a3b8"/></svg></div><div class="fi" style="left:1533px;top:745px;background:#e0f7fa"><svg width="60" height="60" viewBox="0 0 60 60"><rect x="17.8" y="15.1" width="24.7" height="29.7" rx="3" fill="#26c6da"/><text x="21.30" y="39.7" font-family="Liberation Sans" font-weight="700" font-size="9.2" fill="#fff" textLength="17.8" lengthAdjust="spacingAndGlyphs">XLS</text></svg></div><div class="t " style="left:1605px;top:750.75px;font-size:21.5px;line-height:21.5px;color:#1e293b;letter-spacing:0.5px;">invoice_recap.xsls</div><div class="t " style="left:1605px;top:780.55px;font-size:17.9px;line-height:17.9px;color:#94a3b8;letter-spacing:0.7px;">MS Excel file</div><div class="dots" style="left:2021px;top:748px"><svg width="52" height="52" viewBox="0 0 52 52"><circle cx="17.3" cy="26" r="2.3" fill="#94a3b8"/><circle cx="26" cy="26" r="2.3" fill="#94a3b8"/><circle cx="34.7" cy="26" r="2.3" fill="#94a3b8"/></svg></div><div class="t " style="left:229px;top:929.35px;font-size:25.5px;line-height:25.5px;color:#0f172a;letter-spacing:-0.2px;-webkit-text-stroke:0.6px #0f172a;">My Tasks</div><div class="va" style="left:644px;top:915px"></div><div class="t " style="left:669px;top:931.00px;font-size:21px;line-height:21px;color:#8b5cf6;letter-spacing:0.8px;">View All</div><div class="chk" style="left:229px;top:1020px"><svg width="48" height="48" viewBox="0 0 48 48"><circle cx="24" cy="24" r="23.1" stroke="#14b3a0" stroke-width="1.8" fill="none"/><path d="M13 25.2l6.5 6.8L35 16.2" stroke="#14b3a0" stroke-width="1.9" fill="none"/></svg></div><div class="t " style="left:295px;top:1018.50px;font-size:21px;line-height:21px;color:#1e293b;letter-spacing:0.72px;">Call Mr. Markstrom</div><div class="t " style="left:295px;top:1048.55px;font-size:16.5px;line-height:16.5px;color:#94a3b8;letter-spacing:0.95px;">Review the project initial wireframes</div><div class="chk" style="left:229px;top:1109px"><svg width="48" height="48" viewBox="0 0 48 48"><circle cx="24" cy="24" r="23.1" stroke="#14b3a0" stroke-width="1.8" fill="none"/><path d="M13 25.2l6.5 6.8L35 16.2" stroke="#14b3a0" stroke-width="1.9" fill="none"/></svg></div><div class="t " style="left:295px;top:1107.50px;font-size:21px;line-height:21px;color:#1e293b;letter-spacing:0.72px;">Finish wireframes</div><div class="t " style="left:295px;top:1137.55px;font-size:16.5px;line-height:16.5px;color:#94a3b8;letter-spacing:0.95px;">Make all requested changes and publish</div><div class="chk" style="left:229px;top:1198px"><svg width="48" height="48" viewBox="0 0 48 48"><circle cx="24" cy="24" r="23.1" stroke="#14b3a0" stroke-width="1.8" fill="none"/><path d="M13 25.2l6.5 6.8L35 16.2" stroke="#14b3a0" stroke-width="1.9" fill="none"/></svg></div><div class="t " style="left:295px;top:1196.50px;font-size:21px;line-height:21px;color:#1e293b;letter-spacing:0.72px;">Update timesheets</div><div class="t " style="left:295px;top:1226.55px;font-size:16.5px;line-height:16.5px;color:#94a3b8;letter-spacing:0.95px;">Submit your weekly timesheets</div><div class="t " style="left:881px;top:929.35px;font-size:25.5px;line-height:25.5px;color:#0f172a;letter-spacing:-0.2px;-webkit-text-stroke:0.6px #0f172a;">My Tasks</div><div class="va" style="left:1296px;top:915px"></div><div class="t " style="left:1321px;top:931.00px;font-size:21px;line-height:21px;color:#8b5cf6;letter-spacing:0.8px;">View All</div><div class="chk" style="left:881px;top:1020px"><svg width="48" height="48" viewBox="0 0 48 48"><circle cx="24" cy="24" r="23.1" stroke="#14b3a0" stroke-width="1.8" fill="none"/><path d="M13 25.2l6.5 6.8L35 16.2" stroke="#14b3a0" stroke-width="1.9" fill="none"/></svg></div><div class="t " style="left:947px;top:1018.50px;font-size:21px;line-height:21px;color:#1e293b;letter-spacing:0.72px;">Call Mr. Markstrom</div><div class="t " style="left:947px;top:1048.55px;font-size:16.5px;line-height:16.5px;color:#94a3b8;letter-spacing:0.95px;">Review the project initial wireframes</div><div class="chk" style="left:881px;top:1109px"><svg width="48" height="48" viewBox="0 0 48 48"><circle cx="24" cy="24" r="23.1" stroke="#14b3a0" stroke-width="1.8" fill="none"/><path d="M13 25.2l6.5 6.8L35 16.2" stroke="#14b3a0" stroke-width="1.9" fill="none"/></svg></div><div class="t " style="left:947px;top:1107.50px;font-size:21px;line-height:21px;color:#1e293b;letter-spacing:0.72px;">Finish wireframes</div><div class="t " style="left:947px;top:1137.55px;font-size:16.5px;line-height:16.5px;color:#94a3b8;letter-spacing:0.95px;">Make all requested changes and publish</div><div class="chk" style="left:881px;top:1198px"><svg width="48" height="48" viewBox="0 0 48 48"><circle cx="24" cy="24" r="23.1" stroke="#14b3a0" stroke-width="1.8" fill="none"/><path d="M13 25.2l6.5 6.8L35 16.2" stroke="#14b3a0" stroke-width="1.9" fill="none"/></svg></div><div class="t " style="left:947px;top:1196.50px;font-size:21px;line-height:21px;color:#1e293b;letter-spacing:0.72px;">Update timesheets</div><div class="t " style="left:947px;top:1226.55px;font-size:16.5px;line-height:16.5px;color:#94a3b8;letter-spacing:0.95px;">Submit your weekly timesheets</div><div class="t " style="left:1533px;top:929.35px;font-size:25.5px;line-height:25.5px;color:#0f172a;letter-spacing:-0.2px;-webkit-text-stroke:0.6px #0f172a;">Tasks</div><div class="tabs" style="left:1835px;top:915px;border-radius:10px"><div class="tab-on" style="border-radius:10px"></div></div><div class="t " style="left:1883px;top:931.00px;font-size:21px;line-height:21px;color:#ffffff;letter-spacing:0.2px;-webkit-text-stroke:0.3px #fff;">All</div><div class="t " style="left:1989px;top:931.00px;font-size:21px;line-height:21px;color:#94a3b8;letter-spacing:1.0px;">Mine</div><div class="chk" style="left:1533px;top:1020px"><svg width="48" height="48" viewBox="0 0 48 48"><circle cx="24" cy="24" r="23.1" stroke="#14b3a0" stroke-width="1.8" fill="none"/><path d="M13 25.2l6.5 6.8L35 16.2" stroke="#14b3a0" stroke-width="1.9" fill="none"/></svg></div><div class="t " style="left:1599px;top:1018.50px;font-size:21px;line-height:21px;color:#1e293b;letter-spacing:0.72px;">Call Mr. Markstrom</div><div class="t " style="left:1599px;top:1048.55px;font-size:16.5px;line-height:16.5px;color:#94a3b8;letter-spacing:0.95px;">Review the project initial wireframes</div><div class="chk" style="left:1533px;top:1109px"><svg width="48" height="48" viewBox="0 0 48 48"><circle cx="24" cy="24" r="23.1" stroke="#14b3a0" stroke-width="1.8" fill="none"/><path d="M13 25.2l6.5 6.8L35 16.2" stroke="#14b3a0" stroke-width="1.9" fill="none"/></svg></div><div class="t " style="left:1599px;top:1107.50px;font-size:21px;line-height:21px;color:#1e293b;letter-spacing:0.72px;">Finish wireframes</div><div class="t " style="left:1599px;top:1137.55px;font-size:16.5px;line-height:16.5px;color:#94a3b8;letter-spacing:0.95px;">Make all requested changes and publish</div><div class="chk" style="left:1533px;top:1198px"><svg width="48" height="48" viewBox="0 0 48 48"><circle cx="24" cy="24" r="23.1" stroke="#14b3a0" stroke-width="1.8" fill="none"/><path d="M13 25.2l6.5 6.8L35 16.2" stroke="#14b3a0" stroke-width="1.9" fill="none"/></svg></div><div class="t " style="left:1599px;top:1196.50px;font-size:21px;line-height:21px;color:#1e293b;letter-spacing:0.72px;">Update timesheets</div><div class="t " style="left:1599px;top:1226.55px;font-size:16.5px;line-height:16.5px;color:#94a3b8;letter-spacing:0.95px;">Submit your weekly timesheets</div>
</body></html>
